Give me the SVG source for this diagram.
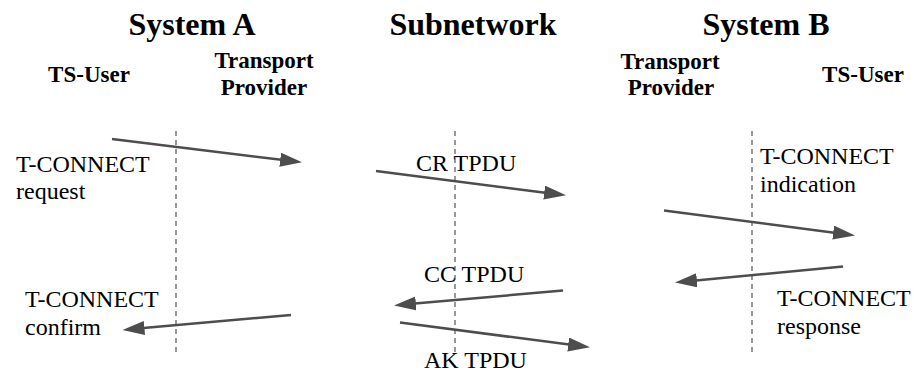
<svg xmlns="http://www.w3.org/2000/svg" width="914" height="374" viewBox="0 0 914 374">
  <defs>
    <marker id="head" markerUnits="userSpaceOnUse" markerWidth="24" markerHeight="16" refX="1" refY="7" orient="auto">
      <path d="M0,0 L22,7 L0,14 z" fill="#4d4d4d"/>
    </marker>
  </defs>
  <rect width="914" height="374" fill="#fff"/>

  <!-- column headings -->
  <g id="system-a" font-family="Liberation Serif, serif" font-weight="bold" fill="#000" text-anchor="middle">
    <text x="192" y="35" font-size="32">System A</text>
    <text x="89" y="82" font-size="23">TS-User</text>
    <text x="264" y="68" font-size="23">Transport</text>
    <text x="264" y="95" font-size="23">Provider</text>
  </g>
  <g id="subnetwork" font-family="Liberation Serif, serif" font-weight="bold" fill="#000" text-anchor="middle">
    <text x="473" y="35" font-size="32">Subnetwork</text>
  </g>
  <g id="system-b" font-family="Liberation Serif, serif" font-weight="bold" fill="#000" text-anchor="middle">
    <text x="766" y="35" font-size="32">System B</text>
    <text x="670" y="69" font-size="23">Transport</text>
    <text x="671" y="95" font-size="23">Provider</text>
    <text x="863" y="82" font-size="23">TS-User</text>
  </g>

  <!-- service boundaries -->
  <g id="boundaries" stroke="#555" stroke-width="1.2" stroke-dasharray="5 4" fill="none">
    <line x1="176" y1="131" x2="176" y2="355"/>
    <line x1="455" y1="131" x2="455" y2="355"/>
    <line x1="752" y1="131" x2="752" y2="355"/>
  </g>

  <!-- primitive and TPDU labels -->
  <g id="labels" font-family="Liberation Serif, serif" font-size="24" fill="#000">
    <text x="16" y="172">T-CONNECT</text>
    <text x="16" y="199">request</text>
    <text x="416" y="171">CR TPDU</text>
    <text x="760" y="164">T-CONNECT</text>
    <text x="760" y="192">indication</text>
    <text x="424" y="282">CC TPDU</text>
    <text x="25" y="307">T-CONNECT</text>
    <text x="25" y="335">confirm</text>
    <text x="777" y="306">T-CONNECT</text>
    <text x="777" y="334">response</text>
    <text x="424" y="368">AK TPDU</text>
  </g>

  <!-- message arrows -->
  <g id="connectors" stroke="#4d4d4d" stroke-width="2.5" fill="none" marker-end="url(#head)">
    <line x1="112" y1="139" x2="281.2" y2="159.8"/>
    <line x1="376" y1="171" x2="545.2" y2="192.7"/>
    <line x1="664" y1="210.5" x2="834.2" y2="232.7"/>
    <line x1="843" y1="266.5" x2="695.9" y2="280.4"/>
    <line x1="563" y1="290.5" x2="414.9" y2="303.6"/>
    <line x1="291" y1="315" x2="143.4" y2="328.1"/>
    <line x1="400" y1="322.5" x2="569.2" y2="344.6"/>
  </g>
</svg>
